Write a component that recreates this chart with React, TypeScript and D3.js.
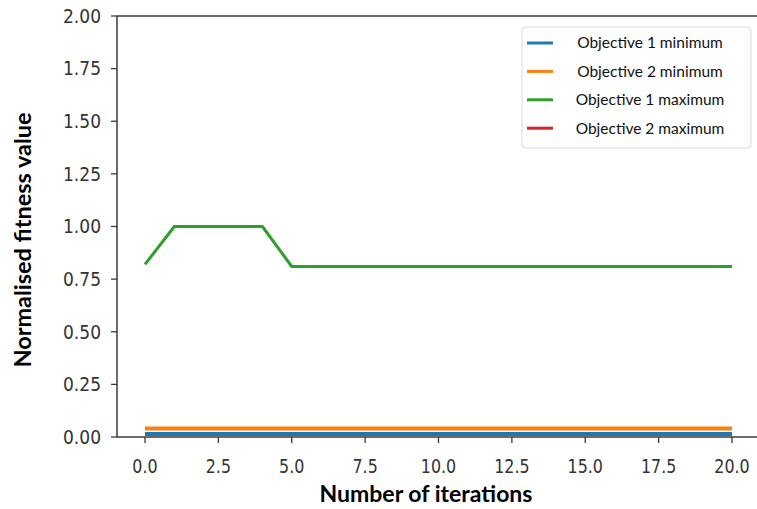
import React from "react";
import * as d3 from "d3";

const iterations = d3.range(0, 21);
const obj1Min = [0.014,0.014,0.014,0.014,0.014,0.014,0.014,0.014,0.014,0.014,0.014,0.014,0.014,0.014,0.014,0.014,0.014,0.014,0.014,0.014,0.014];
const obj2Min = [0.04,0.04,0.04,0.04,0.04,0.04,0.04,0.04,0.04,0.04,0.04,0.04,0.04,0.04,0.04,0.04,0.04,0.04,0.04,0.04,0.04];
const obj1Max = [0.82,1.0,1.0,1.0,1.0,0.81,0.81,0.81,0.81,0.81,0.81,0.81,0.81,0.81,0.81,0.81,0.81,0.81,0.81,0.81,0.81];
const obj2Max: number[] = [];
const xTicks = [0, 2.5, 5, 7.5, 10, 12.5, 15, 17.5, 20];
const yTicks = [0, 0.25, 0.5, 0.75, 1.0, 1.25, 1.5, 1.75, 2.0];
const seriesNames = ["Objective 1 minimum", "Objective 2 minimum", "Objective 1 maximum", "Objective 2 maximum"];
const seriesColors = ["#1f77b4", "#ff7f0e", "#2ca02c", "#d62728"];
const seriesValues = [obj1Min, obj2Min, obj1Max, obj2Max];

export default function App() {
  const W = 757, H = 509;
  const left = 117, top = 16, bottom = 437;
  const x = d3.scaleLinear().domain([0, 20]).range([145, 732]);
  const y = d3.scaleLinear().domain([0, 2]).range([bottom, top]);
  const line = d3.line<number>().x((_, i) => x(iterations[i])).y((d) => y(d));
  const axisColor = "#3a3a3a";
  const tickFont = "'DejaVu Sans Condensed', 'DejaVu Sans', sans-serif";
  const labelFont = "Lato, 'Open Sans', sans-serif";
  return (
    <svg width={W} height={H} style={{ position: "absolute", left: 0, top: 0, background: "#fff" }}>
      {seriesValues.map((vals, k) =>
        vals.length ? (
          <path key={k} d={line(vals) || ""} fill="none" stroke={seriesColors[k]} strokeWidth={k === 2 ? 3 : 4} strokeLinejoin="round" />
        ) : null
      )}
      <line x1={left} x2={W} y1={top} y2={top} stroke={axisColor} strokeWidth={1.5} />
      <line x1={left} x2={W} y1={bottom} y2={bottom} stroke={axisColor} strokeWidth={1.5} />
      <line x1={left} x2={left} y1={top} y2={bottom} stroke={axisColor} strokeWidth={1.5} />
      {yTicks.map((t) => (
        <g key={t}>
          <line x1={left - 6} x2={left} y1={y(t)} y2={y(t)} stroke={axisColor} strokeWidth={1.3} />
          <text x={left - 16} y={y(t)} dy="0.36em" textAnchor="end" fontFamily={tickFont} fontSize={19} fill="#333">
            {d3.format(".2f")(t)}
          </text>
        </g>
      ))}
      {xTicks.map((t) => (
        <g key={t} transform={`translate(${x(t)},0)`}>
          <line x1={0} x2={0} y1={bottom} y2={bottom + 6} stroke={axisColor} strokeWidth={1.3} />
          <text transform="scale(0.93,1)" x={0} y={466} dy="0.36em" textAnchor="middle" fontFamily={tickFont} fontSize={19} fill="#333">
            {d3.format(".1f")(t)}
          </text>
        </g>
      ))}
      <text x={426} y={502} textAnchor="middle" fontFamily={labelFont} fontWeight="bold" fontSize={22} fill="#000" textLength={213} lengthAdjust="spacingAndGlyphs">
        Number of iterations
      </text>
      <text transform={`translate(31,240) rotate(-90)`} textAnchor="middle" fontFamily={labelFont} fontWeight="bold" fontSize={22} fill="#000" textLength={255} lengthAdjust="spacingAndGlyphs">
        Normalised fitness value
      </text>
      <rect x={522} y={27} width={229} height={121} rx={4} fill="#fff" stroke="#d8d8d8" strokeWidth={1} />
      {seriesNames.map((n, k) => {
        const ly = 43 + k * 28.4;
        return (
          <g key={n}>
            <line x1={527} x2={553} y1={ly} y2={ly} stroke={seriesColors[k]} strokeWidth={3} />
            <text x={650} y={ly} dy="0.35em" textAnchor="middle" fontFamily={labelFont} fontSize={15.5} fill="#111">
              {n}
            </text>
          </g>
        );
      })}
    </svg>
  );
}
